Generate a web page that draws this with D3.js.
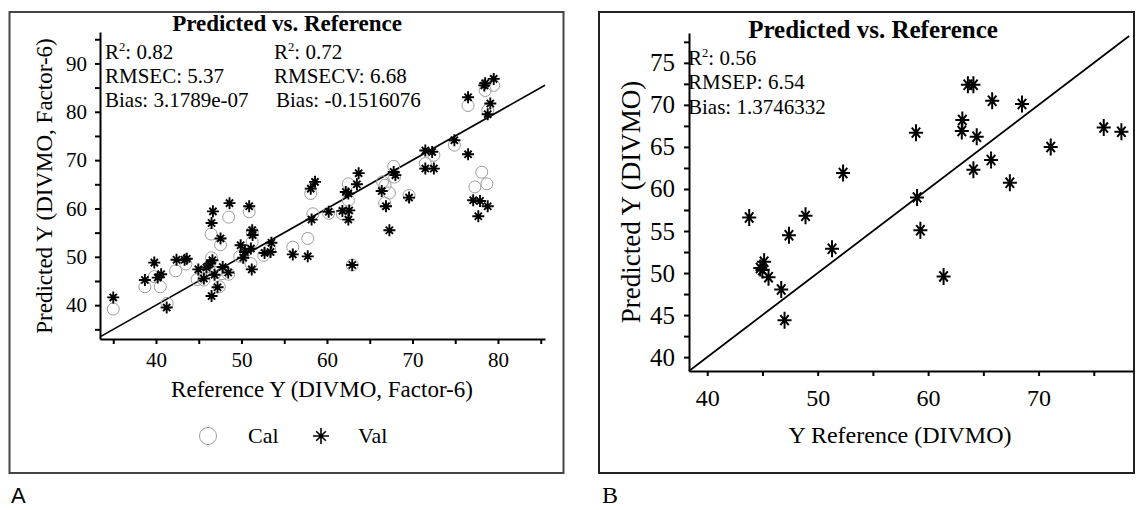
<!DOCTYPE html>
<html>
<head>
<meta charset="utf-8">
<script src="https://cdn.jsdelivr.net/npm/d3@7"></script>
<style>
  body { margin: 0; background: #fff; }
  svg text { font-family: "Liberation Serif", "Times New Roman", serif; fill: #000; }
  .axis path, .axis line { stroke: #000; stroke-width: 2; }
</style>
</head>
<body>
<svg id="chart" width="1136" height="510"></svg>
<script>
// Panel A - calibration set (open circles)
let calX = [35.0, 38.7, 39.8, 40.5, 41.3, 42.3, 43.5, 44.8, 45.6, 46.45, 46.5, 46.2, 47.0, 47.4, 47.55, 47.7,
  48.5, 48.5, 49.8, 50.5, 50.9, 51.25, 51.25, 51.1, 52.6, 53.3, 56.0, 57.75, 58.35, 58.1, 60.2, 61.8, 62.5,
  62.95, 62.5, 66.8, 67.3, 66.75, 69.6, 66.5, 67.8, 67.9, 72.5, 71.5, 74.9, 76.5, 78.5, 79.5, 78.8, 78.1, 77.3, 78.7]
let calY = [39.2, 43.8, 45.9, 43.8, 40.35, 47.1, 48.5, 45.3, 45.2, 54.7, 49.8, 48.0, 46.75, 43.8, 52.5, 46.5,
  58.2, 46.4, 50.1, 51.2, 59.3, 55.1, 53.1, 48.6, 50.3, 51.5, 52.0, 53.8, 58.9, 63.1, 59.0, 58.9, 61.7,
  48.3, 65.1, 64.8, 63.2, 61.1, 62.7, 65.5, 68.7, 66.5, 71.0, 69.3, 73.1, 81.3, 84.4, 85.45, 80.3, 67.5, 64.45, 65.1]

// Panel A - validation set (stars)
let valX = [35.0, 38.7, 39.8, 40.2, 40.6, 41.25, 42.4, 43.35, 43.6, 44.95, 45.6, 45.9, 46.3, 46.6, 46.66, 46.5,
  46.5, 46.85, 47.2, 47.55, 47.8, 48.45, 48.6, 49.9, 50.2, 50.4, 50.9, 51.1, 51.25, 51.3, 51.2, 52.7, 53.4,
  53.5, 56.0, 57.75, 58.2, 58.1, 58.6, 60.2, 61.8, 62.2, 62.5, 62.6, 62.5, 63.5, 62.95, 63.7, 66.4, 66.9,
  67.3, 67.8, 68.0, 69.6, 71.5, 72.3, 71.5, 72.5, 74.9, 76.5, 76.5, 78.5, 78.4, 79.5, 79.1, 78.8, 77.1,
  77.9, 78.8, 77.7]
let valY = [41.6, 45.2, 48.8, 45.7, 46.4, 39.5, 49.4, 49.4, 49.6, 47.4, 45.5, 47.8, 48.6, 49.3, 59.4, 57.0,
  41.9, 46.3, 43.7, 53.8, 47.9, 46.75, 61.1, 52.4, 49.8, 51.0, 60.45, 51.7, 55.5, 54.5, 47.4, 50.8, 51.0,
  52.9, 50.5, 50.1, 57.7, 64.1, 65.5, 59.3, 59.5, 63.4, 63.1, 59.6, 57.7, 65.0, 48.3, 67.3, 63.6, 60.45,
  55.5, 67.55, 66.9, 62.25, 72.0, 71.7, 68.25, 68.25, 74.1, 71.2, 83.0, 85.9, 85.45, 86.8, 81.7, 79.5, 61.7,
  61.55, 60.45, 58.4]

// Panel B - prediction set (stars)
let predX = [43.8, 48.9, 47.4, 51.3, 45.15, 44.8, 45.0, 45.55, 46.7, 47.0, 59.0, 59.3, 61.4, 52.3, 58.9,
  63.6, 64.1, 65.8, 68.5, 63.1, 63.05, 64.4, 65.7, 64.1, 67.4, 71.1, 75.9, 77.5]
let predY = [56.6, 56.8, 54.5, 52.9, 51.35, 50.6, 50.35, 49.5, 48.05, 44.4, 59.0, 55.1, 49.6, 61.9, 66.7,
  72.4, 72.4, 70.5, 70.1, 68.2, 66.9, 66.2, 63.45, 62.3, 60.75, 65.0, 67.3, 66.8]

let xMajorA = [40, 50, 60, 70, 80]
let xMinorA = [35, 45, 55, 65, 75, 85]
let yMajorA = [40, 50, 60, 70, 80, 90]
let yMinorA = [35, 45, 55, 65, 75, 85, 95]
let majorB = [40, 50, 60, 70]
let minorB = [45, 55, 65, 75]
let yMajorB = [40, 45, 50, 55, 60, 65, 70, 75]
let yMinorB = [42.5, 47.5, 52.5, 57.5, 62.5, 67.5, 72.5, 77.5]

let statsA = [['0.82', 'RMSEC: 5.37', 'Bias: 3.1789e-07'], ['0.72', 'RMSECV: 6.68', 'Bias: -0.1516076']]
let statsB = ['0.56', 'RMSEP: 6.54', 'Bias: 1.3746332']

const svg = d3.select('#chart')

function starPath(w, h) {
  let dx = w * 0.6, dy = h * 0.6
  return `M${-w},0H${w}M0,${-h}V${h}M${-dx},${-dy}L${dx},${dy}M${-dx},${dy}L${dx},${-dy}`
}

function axes(x, y, xMajor, xMinor, yMajor, yMinor, fx, fy, padX, padY) {
  let xAll = xMajor.concat(xMinor), yAll = yMajor.concat(yMinor)
  svg.append('g').attr('class', 'axis')
    .attr('transform', `translate(0,${y.range()[0]})`)
    .call(d3.axisBottom(x).tickValues(xAll).tickFormat(d => xMajor.includes(d) ? d : '')
      .tickSize(5).tickSizeOuter(0).tickPadding(padX))
    .call(g => g.selectAll('text').style('font-size', fx + 'px'))
  svg.append('g').attr('class', 'axis')
    .attr('transform', `translate(${x.range()[0]},0)`)
    .call(d3.axisLeft(y).tickValues(yAll).tickFormat(d => yMajor.includes(d) ? d : '')
      .tickSize(5).tickSizeOuter(0).tickPadding(padY))
    .call(g => g.selectAll('text').style('font-size', fy + 'px'))
}

function r2Line(x, y, value, size) {
  let t = svg.append('text').attr('x', x).attr('y', y).style('font-size', size + 'px')
  t.append('tspan').text('R')
  t.append('tspan').attr('dy', -8).style('font-size', (size * 0.6) + 'px').text('2')
  t.append('tspan').attr('dy', 8).text(': ' + value)
}

// ---------- panel A ----------
svg.append('rect').attr('x', 9.5).attr('y', 12).attr('width', 554).attr('height', 461)
  .attr('fill', 'none').attr('stroke', '#444').attr('stroke-width', 2)

let xA = d3.scaleLinear().domain([33.45, 85.5]).range([100, 545])
let yA = d3.scaleLinear().domain([33, 96.5]).range([339, 32])

svg.append('line')
  .attr('x1', xA(33.45)).attr('y1', yA(33.45)).attr('x2', xA(85.5)).attr('y2', yA(85.5))
  .attr('stroke', '#000').attr('stroke-width', 1.6)

svg.append('g').selectAll('circle')
  .data(d3.range(calX.length))
  .join('circle')
    .attr('cx', i => xA(calX[i]))
    .attr('cy', i => yA(calY[i]))
    .attr('r', 6)
    .attr('fill', 'none')
    .attr('stroke', '#9d9d9d')
    .attr('stroke-width', 1)

svg.append('g').selectAll('path')
  .data(d3.range(valX.length))
  .join('path')
    .attr('transform', i => `translate(${xA(valX[i])},${yA(valY[i])})`)
    .attr('d', starPath(6, 6))
    .attr('stroke', '#000')
    .attr('stroke-width', 1.9)

axes(xA, yA, xMajorA, xMinorA, yMajorA, yMinorA, 21, 21, 8, 8)

svg.append('text').attr('x', 287).attr('y', 31).attr('text-anchor', 'middle')
  .style('font-size', '23px').style('font-weight', 'bold').text('Predicted vs. Reference')

statsA.forEach((col, c) => {
  let x0 = c === 0 ? 105 : 274
  r2Line(x0, 59, col[0], 21)
  svg.append('text').attr('x', x0).attr('y', 83).style('font-size', '21px').text(col[1])
  svg.append('text').attr('x', x0 + (c === 0 ? 0 : 2)).attr('y', 107).style('font-size', '21px').text(col[2])
})

svg.append('text').attr('x', 322).attr('y', 397).attr('text-anchor', 'middle')
  .style('font-size', '23px').text('Reference Y (DIVMO, Factor-6)')
svg.append('text').attr('transform', 'translate(52,186) rotate(-90)').attr('text-anchor', 'middle')
  .style('font-size', '23px').text('Predicted Y (DIVMO, Factor-6)')

// legend
svg.append('circle').attr('cx', 208).attr('cy', 436).attr('r', 8.5)
  .attr('fill', 'none').attr('stroke', '#9d9d9d').attr('stroke-width', 1)
svg.append('text').attr('x', 248).attr('y', 443).style('font-size', '22px').text('Cal')
svg.append('path').attr('transform', 'translate(321,436)').attr('d', starPath(8, 8))
  .attr('stroke', '#000').attr('stroke-width', 1.6)
svg.append('text').attr('x', 358).attr('y', 443).style('font-size', '22px').text('Val')

svg.append('text').attr('x', 11).attr('y', 503)
  .style('font-family', '"Liberation Sans", Arial, sans-serif').style('font-size', '22px').text('A')

// ---------- panel B ----------
svg.append('rect').attr('x', 599).attr('y', 12).attr('width', 535).attr('height', 461)
  .attr('fill', 'none').attr('stroke', '#222').attr('stroke-width', 2)

let xB = d3.scaleLinear().domain([38.35, 78.55]).range([689, 1133])
let yB = d3.scaleLinear().domain([38.35, 78.55]).range([371, 33])

svg.append('line')
  .attr('x1', xB(38.35)).attr('y1', yB(38.35)).attr('x2', xB(78.2)).attr('y2', yB(78.2))
  .attr('stroke', '#000').attr('stroke-width', 1.8)

svg.append('g').selectAll('path')
  .data(d3.range(predX.length))
  .join('path')
    .attr('transform', i => `translate(${xB(predX[i])},${yB(predY[i])})`)
    .attr('d', starPath(7, 8.5))
    .attr('stroke', '#000')
    .attr('stroke-width', 2)

axes(xB, yB, majorB, minorB, yMajorB, yMinorB, 24, 25, 13, 9)

svg.append('text').attr('x', 873).attr('y', 38).attr('text-anchor', 'middle')
  .style('font-size', '25px').style('font-weight', 'bold').text('Predicted vs. Reference')

r2Line(688, 65, statsB[0], 21)
svg.append('text').attr('x', 688).attr('y', 89).style('font-size', '21px').text(statsB[1])
svg.append('text').attr('x', 688).attr('y', 114).style('font-size', '21px').text(statsB[2])

svg.append('text').attr('x', 900).attr('y', 443).attr('text-anchor', 'middle')
  .style('font-size', '24px').text('Y Reference (DIVMO)')
svg.append('text').attr('transform', 'translate(640,202) rotate(-90)').attr('text-anchor', 'middle')
  .style('font-size', '27px').text('Predicted Y (DIVMO)')

svg.append('text').attr('x', 602).attr('y', 503).style('font-size', '24px').text('B')
</script>
</body>
</html>
